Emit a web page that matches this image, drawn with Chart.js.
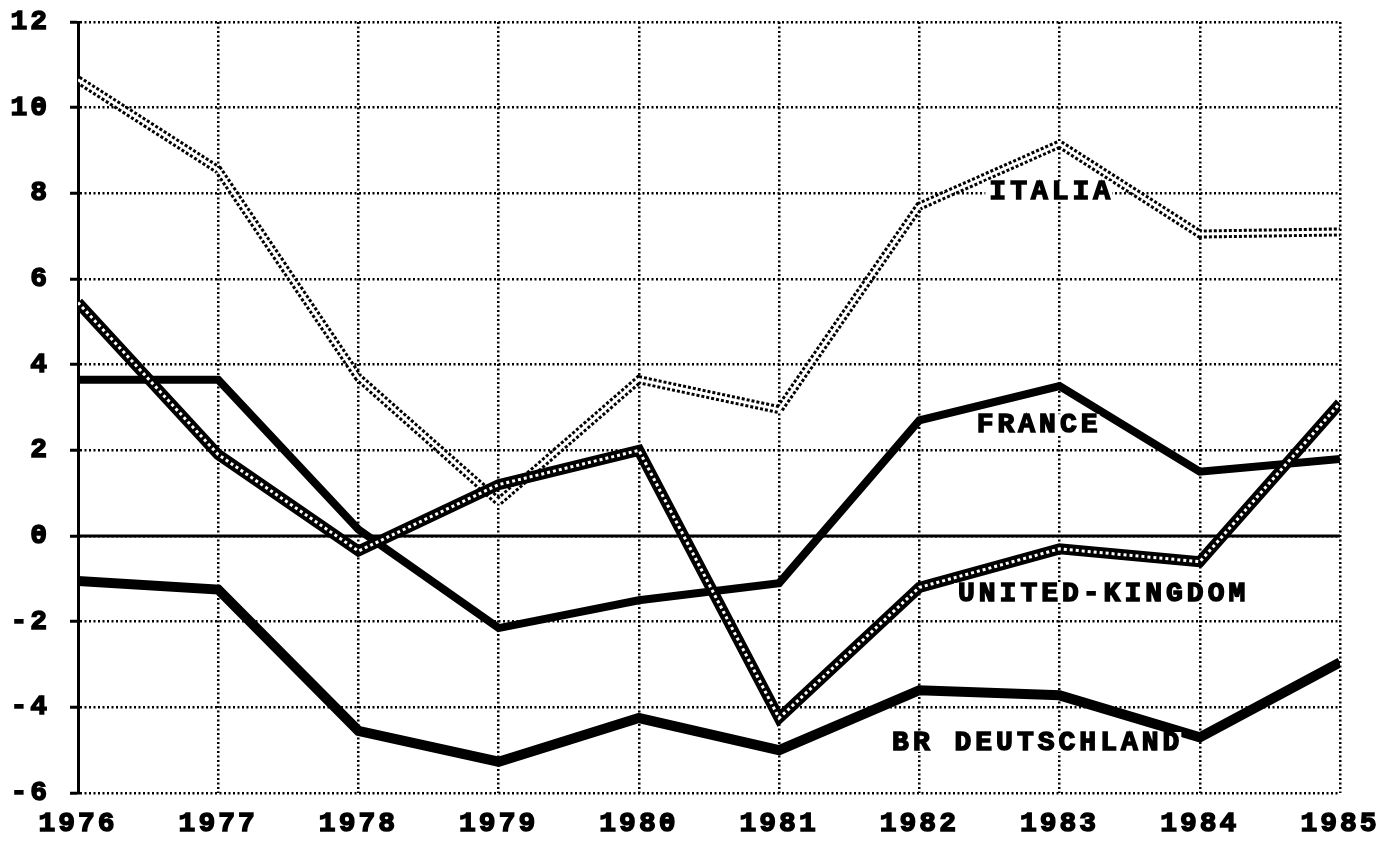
<!DOCTYPE html>
<html>
<head>
<meta charset="utf-8">
<script src="https://cdn.jsdelivr.net/npm/chart.js@4"></script>
<style>
html, body { margin: 0; padding: 0; background: #fff; }
</style>
</head>
<body>
<canvas id="myChart" width="1399" height="841"></canvas>
<script>
// data
const years = [1976, 1977, 1978, 1979, 1980, 1981, 1982, 1983, 1984, 1985];
const italia = [10.65, 8.55, 3.7, 0.8, 3.65, 2.95, 7.7, 9.15, 7.05, 7.1];
const france = [3.65, 3.65, 0.15, -2.15, -1.5, -1.1, 2.7, 3.5, 1.5, 1.8];
const unitedKingdom = [5.45, 1.9, -0.35, 1.2, 2.0, -4.25, -1.2, -0.3, -0.6, 3.1];
const brDeutschland = [-1.05, -1.25, -4.55, -5.27, -4.25, -5.0, -3.6, -3.72, -4.7, -2.95];
const zeroLine = [0, 0, 0, 0, 0, 0, 0, 0, 0, 0];
const yMin = -6, yMax = 12, yStep = 2;

// text written next to the lines, and where (year, value)
const seriesNames = ['ITALIA', 'FRANCE', 'UNITED-KINGDOM', 'BR DEUTSCHLAND'];
const nameYears = [1982.93, 1982.84, 1983.3, 1982.83];
const nameValues = [8.05, 2.61, -1.33, -4.81];

const FONT = '"Liberation Mono", "DejaVu Sans Mono", monospace';

function pts(vals) {
    return years.map((yr, i) => ({x: yr, y: vals[i]}));
}

function line(vals, width, order, color, dash) {
    return {
        data: pts(vals),
        borderColor: color || '#000',
        borderWidth: width,
        borderDash: dash || [],
        pointRadius: 0,
        tension: 0,
        fill: false,
        order: order
    };
}

// letter spacing for the blocky old-printer look
const spacing = {
    id: 'spacing',
    beforeUpdate(chart) { chart.ctx.letterSpacing = '3px'; },
    beforeDraw(chart) { chart.ctx.letterSpacing = '3px'; }
};

const seriesLabels = {
    id: 'seriesLabels',
    afterDatasetsDraw(chart) {
        const ctx = chart.ctx;
        const x = chart.scales.x, y = chart.scales.y;
        ctx.save();
        ctx.font = 'bold 28px ' + FONT;
        ctx.letterSpacing = '4px';
        ctx.textAlign = 'center';
        ctx.textBaseline = 'middle';
        ctx.lineWidth = 1.5;
        ctx.strokeStyle = '#000';
        seriesNames.forEach((name, i) => {
            const px = x.getPixelForValue(nameYears[i]);
            const py = y.getPixelForValue(nameValues[i]);
            const w = ctx.measureText(name).width;
            ctx.fillStyle = '#fff';
            ctx.fillRect(px - w / 2 - 2, py - 10, w + 2, 20);
            ctx.fillStyle = '#000';
            ctx.strokeText(name, px + 2, py + 1);
            ctx.fillText(name, px + 2, py + 1);
        });
        ctx.restore();
    }
};

const tickFont = { family: FONT, size: 28, weight: 'bold' };

var ctx = document.getElementById('myChart').getContext('2d');
var chart = new Chart(ctx, {
    type: 'line',
    data: {
        datasets: [
            line(zeroLine, 3, 20),
            line(italia, 9, 12, '#000', [3, 2]),
            line(italia, 3, 11, '#fff'),
            line(brDeutschland, 10, 8),
            line(france, 8, 7),
            line(unitedKingdom, 11, 6),
            line(unitedKingdom, 3, 5, '#fff', [3, 3])
        ]
    },
    options: {
        responsive: false,
        animation: false,
        events: [],
        layout: { padding: { top: 22, right: 59, left: 0, bottom: 0 } },
        plugins: { legend: { display: false }, tooltip: { enabled: false } },
        scales: {
            x: {
                type: 'linear',
                min: years[0],
                max: years[years.length - 1],
                afterFit(scale) { scale.height = 48; },
                ticks: {
                    stepSize: 1,
                    color: '#000',
                    padding: 14,
                    maxRotation: 0,
                    textStrokeColor: '#000',
                    textStrokeWidth: 1.5,
                    font: tickFont,
                    callback: (v) => String(v)
                },
                grid: { color: '#000', lineWidth: 2.5, drawTicks: false },
                border: { display: false, dash: [2, 2.5] }
            },
            y: {
                min: yMin,
                max: yMax,
                afterFit(scale) {
                    scale.width = 78;
                    scale.paddingTop = 0;
                    scale.paddingBottom = 0;
                },
                ticks: {
                    stepSize: yStep,
                    color: '#000',
                    padding: 20,
                    textStrokeColor: '#000',
                    textStrokeWidth: 1.5,
                    font: tickFont
                },
                grid: { color: '#000', lineWidth: 2.5, tickLength: 8, tickWidth: 3, tickColor: '#000', tickBorderDash: [] },
                border: { display: true, color: '#000', width: 3, dash: [2, 2.5] }
            }
        }
    },
    plugins: [spacing, seriesLabels]
});
</script>
</body>
</html>
